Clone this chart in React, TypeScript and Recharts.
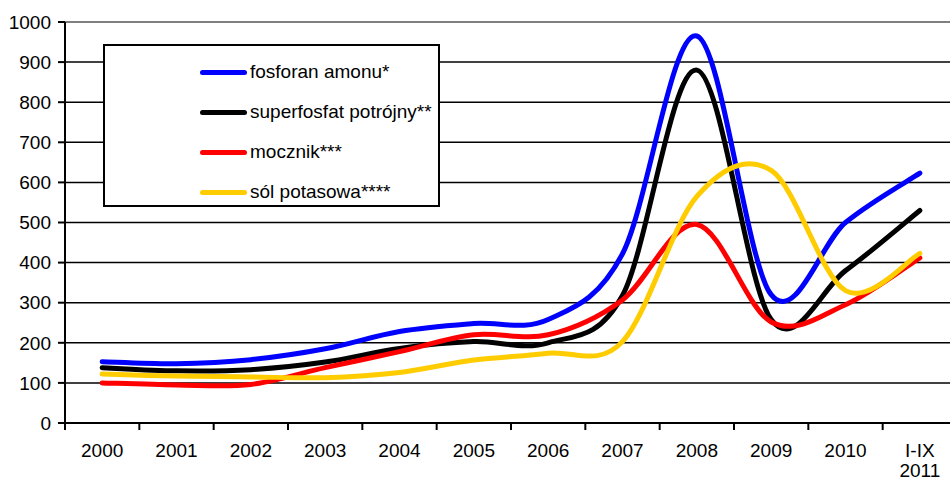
import React from 'react';
import { LineChart, Line, XAxis, YAxis, CartesianGrid, Legend, ReferenceLine } from 'recharts';

const categories = ['2000', '2001', '2002', '2003', '2004', '2005', '2006', '2007', '2008', '2009', '2010', 'I-IX 2011'];
const fosforanAmonu = [153, 148, 158, 185, 228, 248, 258, 422, 965, 320, 500, 623];
const superfosfat = [138, 130, 133, 152, 186, 203, 200, 318, 880, 258, 380, 530];
const mocznik = [100, 95, 96, 138, 178, 220, 220, 307, 495, 252, 295, 412];
const solPotasowa = [122, 117, 115, 113, 126, 157, 174, 203, 565, 630, 330, 423];
const yTicks = [0, 100, 200, 300, 400, 500, 600, 700, 800, 900, 1000];

const series = [
  { key: 'fosforan', name: 'fosforan amonu*', color: '#0000ff', values: fosforanAmonu },
  { key: 'superfosfat', name: 'superfosfat potrójny**', color: '#000000', values: superfosfat },
  { key: 'mocznik', name: 'mocznik***', color: '#ff0000', values: mocznik },
  { key: 'sol', name: 'sól potasowa****', color: '#ffcc00', values: solPotasowa },
];

const data = categories.map((name, i) => {
  const row: Record<string, string | number> = { name };
  series.forEach((s) => (row[s.key] = s.values[i]));
  return row;
});

const FONT = '"Liberation Sans", Arial, sans-serif';
const CHART_W = 960;
const MARGIN = { top: 22, right: 3, bottom: 0, left: 0 };
const Y_W = 65;
const STEP = (CHART_W - MARGIN.left - MARGIN.right - Y_W) / categories.length;

// excel-like smoothed line (catmull-rom through the points)
const excelCurve: any = (ctx: any) => {
  let pts: number[][] = [];
  return {
    areaStart() {},
    areaEnd() {},
    lineStart() {
      pts = [];
    },
    point(x: number, y: number) {
      pts.push([+x, +y]);
    },
    lineEnd() {
      if (!pts.length) return;
      ctx.moveTo(pts[0][0], pts[0][1]);
      for (let i = 0; i < pts.length - 1; i++) {
        const p0 = pts[Math.max(i - 1, 0)];
        const p1 = pts[i];
        const p2 = pts[i + 1];
        const p3 = pts[Math.min(i + 2, pts.length - 1)];
        ctx.bezierCurveTo(
          p1[0] + (p2[0] - p0[0]) / 6,
          p1[1] + (p2[1] - p0[1]) / 6,
          p2[0] - (p3[0] - p1[0]) / 6,
          p2[1] - (p3[1] - p1[1]) / 6,
          p2[0],
          p2[1]
        );
      }
    },
  };
};

const XTick = (props: any) => {
  const { x, y, payload, index } = props;
  const lines = String(payload.value).split(' ');
  return (
    <g>
      <line x1={x - STEP / 2} x2={x - STEP / 2} y1={y} y2={y + 7} stroke="#000" strokeWidth={2} />
      {index === categories.length - 1 && (
        <line x1={x + STEP / 2} x2={x + STEP / 2} y1={y} y2={y + 7} stroke="#000" strokeWidth={2} />
      )}
      {lines.map((l, i) => (
        <text key={i} x={x} y={y + 34 + i * 20} textAnchor="middle" fill="#000" fontSize={19} fontFamily={FONT}>
          {l}
        </text>
      ))}
    </g>
  );
};

const LegendBox = () => (
  <div
    style={{
      width: 337,
      height: 163,
      boxSizing: 'border-box',
      border: '2px solid #000',
      background: '#fff',
      paddingTop: 6,
      fontFamily: FONT,
      fontSize: 19,
      color: '#000',
    }}
  >
    {series.map((s) => (
      <div key={s.key} style={{ display: 'flex', alignItems: 'center', height: 40, paddingLeft: 95 }}>
        <span style={{ display: 'inline-block', width: 47, height: 5, borderRadius: 3, background: s.color, marginRight: 3 }} />
        <span>{s.name}</span>
      </div>
    ))}
  </div>
);

const App: React.FC = () => {
  return (
    <div style={{ position: 'absolute', left: 0, top: 0, width: 950, height: 481, overflow: 'hidden', background: '#fff' }}>
      <LineChart width={CHART_W} height={481} data={data} margin={MARGIN}>
        <CartesianGrid vertical={false} stroke="#000" strokeWidth={1.5} />
        <ReferenceLine y={1000} stroke="#808080" strokeWidth={2} />
        <XAxis
          dataKey="name"
          height={58}
          padding={{ left: STEP / 2, right: STEP / 2 }}
          tickLine={false}
          tickSize={0}
          tickMargin={0}
          axisLine={{ stroke: '#000', strokeWidth: 2 }}
          tick={<XTick />}
          interval={0}
        />
        <YAxis
          width={Y_W}
          domain={[0, 1000]}
          ticks={yTicks}
          interval={0}
          tickSize={7}
          tickMargin={7}
          axisLine={{ stroke: '#000', strokeWidth: 2 }}
          tickLine={{ stroke: '#000', strokeWidth: 2 }}
          tick={{ fill: '#000', fontSize: 19, fontFamily: FONT }}
        />
        <Legend
          layout="vertical"
          align="center"
          verticalAlign="middle"
          content={<LegendBox />}
          wrapperStyle={{ left: 103, top: 44, width: 337, height: 163 }}
        />
        {series.map((s) => (
          <Line
            key={s.key}
            dataKey={s.key}
            name={s.name}
            type={excelCurve}
            stroke={s.color}
            strokeWidth={5}
            strokeLinecap="round"
            dot={false}
            activeDot={false}
            isAnimationActive={false}
          />
        ))}
      </LineChart>
    </div>
  );
};

export default App;
